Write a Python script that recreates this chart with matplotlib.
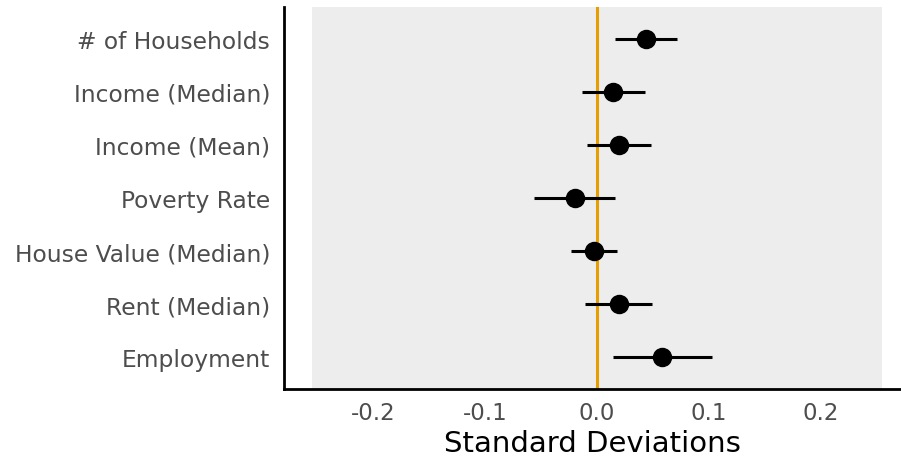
import matplotlib
matplotlib.use("Agg")
import matplotlib.pyplot as plt
from matplotlib.patches import Rectangle

categories = ["# of Households", "Income (Median)", "Income (Mean)", "Poverty Rate",
              "House Value (Median)", "Rent (Median)", "Employment"]
estimates = [0.0438, 0.0143, 0.0196, -0.0196, -0.0027, 0.0196, 0.058]
ci_low = [0.016, -0.0134, -0.0089, -0.0563, -0.023, -0.011, 0.014]
ci_high = [0.0714, 0.0429, 0.048, 0.016, 0.018, 0.049, 0.103]
xticks = [-0.2, -0.1, 0.0, 0.1, 0.2]

fig = plt.figure(figsize=(9.01, 4.6), dpi=100)
ax = fig.add_axes([284/901, 70/460, (901-284)/901, (390-8)/460])

n = len(categories)
ys = list(range(n, 0, -1))

ax.add_patch(Rectangle((-0.2545, 0.4), 0.509, n + 0.2, facecolor="#ededed",
                       edgecolor="none", zorder=0))
ax.axvline(0, color="#E69F00", lw=2.2, zorder=1)
ax.hlines(ys, ci_low, ci_high, color="black", lw=2.2, zorder=2)
ax.plot(estimates, ys, "o", color="black", markersize=13, zorder=3)

ax.set_xlim(-0.2795, 0.2714)
ax.set_ylim(0.4, n + 0.6)
ax.set_yticks(ys)
ax.set_yticklabels(categories)
ax.set_xticks(xticks)
ax.set_xticklabels([f"{t:.1f}" for t in xticks])
ax.tick_params(length=0, labelcolor="#4d4d4d")
ax.tick_params(axis="y", labelsize=16.8, pad=10)
ax.tick_params(axis="x", labelsize=16.5, pad=9)
for s in ["top", "right"]:
    ax.spines[s].set_visible(False)
for s in ["left", "bottom"]:
    ax.spines[s].set_linewidth(2)
ax.set_xlabel("Standard Deviations", fontsize=21, color="black", labelpad=3)

fig.savefig("out.png", dpi=100)
